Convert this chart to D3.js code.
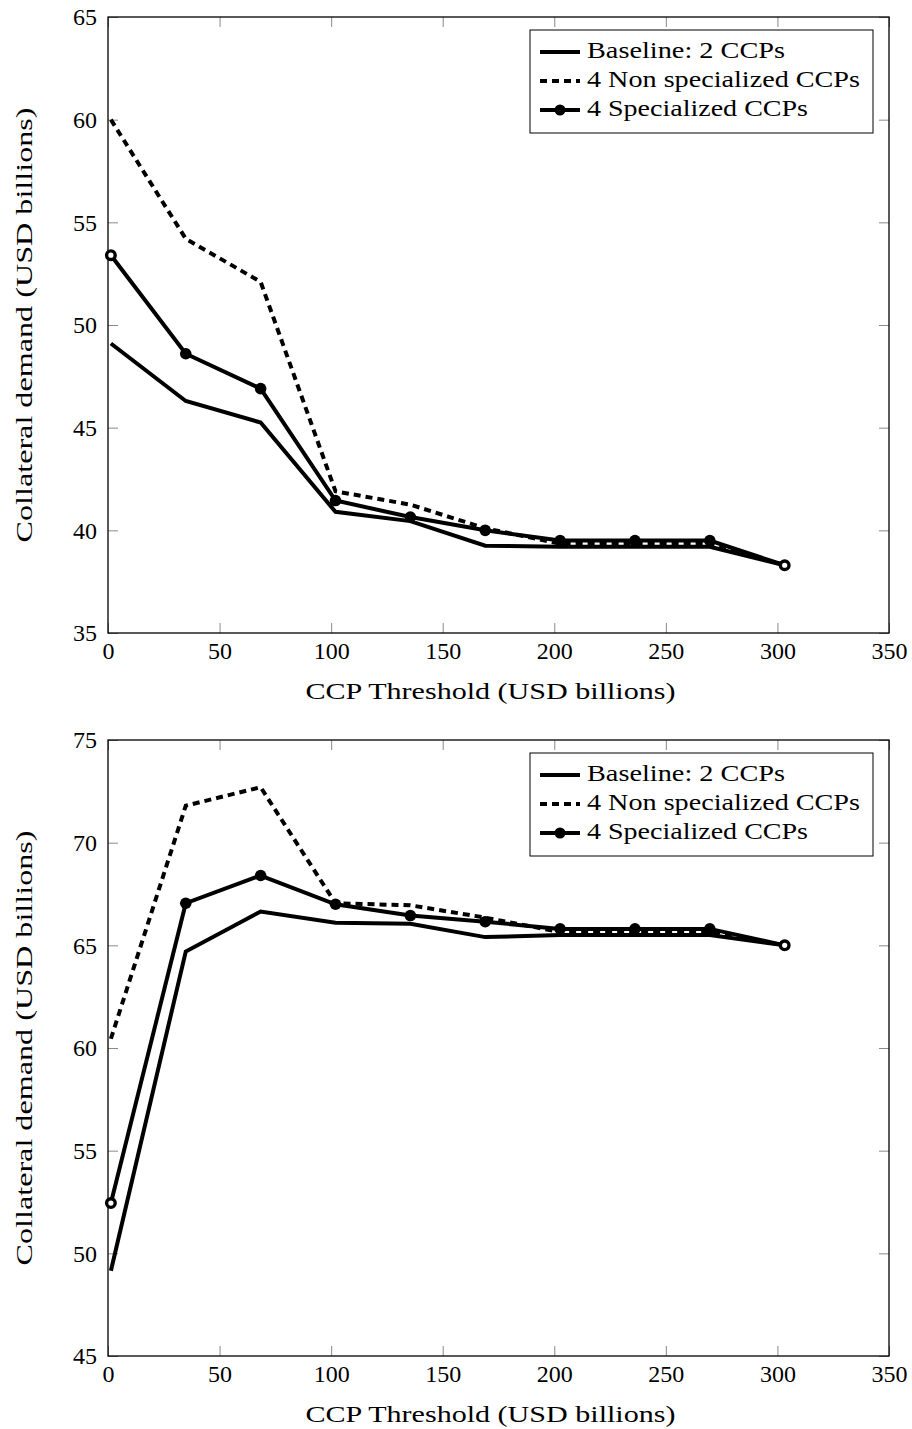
<!DOCTYPE html>
<html>
<head>
<meta charset="utf-8">
<script src="https://cdn.jsdelivr.net/npm/d3@7"></script>
<style>
  body { margin: 0; background: #fff; }
  svg text { font-family: "Liberation Serif", "Times New Roman", "DejaVu Serif", serif; fill: #000; }
</style>
</head>
<body>
<svg width="912" height="1429"></svg>
<script>
// CCP threshold (USD billions)
let thresholds = [1.3, 34.85, 68.4, 101.95, 135.5, 169.05, 202.6, 236.15, 269.7, 303.25];

// top panel
let baseTop = [49.1, 46.3, 45.25, 40.9, 40.45, 39.25, 39.2, 39.2, 39.2, 38.3];
let nonSpecTop = [60.0, 54.2, 52.1, 41.9, 41.25, 40.1, 39.35, 39.35, 39.35, 38.3];
let specTop = [53.4, 48.6, 46.9, 41.45, 40.65, 40.0, 39.5, 39.5, 39.5, 38.3];

// bottom panel
let baseBot = [49.15, 64.7, 66.65, 66.1, 66.05, 65.4, 65.5, 65.5, 65.5, 65.0];
let nonSpecBot = [60.45, 71.8, 72.7, 67.05, 66.95, 66.35, 65.65, 65.65, 65.65, 65.0];
let specBot = [52.45, 67.05, 68.4, 67.0, 66.45, 66.15, 65.8, 65.8, 65.8, 65.0];

let xTicks = [0, 50, 100, 150, 200, 250, 300, 350];
let yTicksTop = [35, 40, 45, 50, 55, 60, 65];
let yTicksBot = [45, 50, 55, 60, 65, 70, 75];

let legendNames = ['Baseline: 2 CCPs', '4 Non specialized CCPs', '4 Specialized CCPs'];
let legendWidths = [198, 273, 221];

let svg = d3.select('svg');
let margin = {left: 108, top: 17};
let innerWidth = 781;
let innerHeight = 616;
let serif = '"Liberation Serif", "Times New Roman", "DejaVu Serif", serif';

let render = (top, yTicks, base, nonSpec, spec) => {
    let g = svg.append('g').attr('transform', `translate(${margin.left},${top})`);

    let xScale = d3.scaleLinear().domain([0, 350]).range([0, innerWidth]);
    let yScale = d3.scaleLinear().domain([yTicks[0], yTicks[yTicks.length - 1]]).range([innerHeight, 0]);

    // ticks inside the frame, on all four sides
    let tickStyle = sel => {
        sel.attr('font-family', serif).attr('font-size', 24);
        sel.select('.domain').remove();
        sel.selectAll('.tick line').attr('stroke', '#8a8a8a').attr('stroke-width', 1);
    };
    // mirrored ticks carry no labels: drop their empty text nodes
    let noLabels = sel => sel.selectAll('.tick text').remove();

    g.append('g').attr('transform', `translate(0,${innerHeight})`)
        .call(d3.axisBottom(xScale).tickValues(xTicks).tickSizeInner(-10).tickSizeOuter(0).tickPadding(8))
        .call(tickStyle)
        .selectAll('text').attr('dy', '0.75em');
    g.append('g')
        .call(d3.axisTop(xScale).tickValues(xTicks).tickSizeInner(-10).tickSizeOuter(0))
        .call(tickStyle).call(noLabels);
    g.append('g')
        .call(d3.axisLeft(yScale).tickValues(yTicks).tickSizeInner(-10).tickSizeOuter(0).tickPadding(11))
        .call(tickStyle);
    g.append('g').attr('transform', `translate(${innerWidth},0)`)
        .call(d3.axisRight(yScale).tickValues(yTicks).tickSizeInner(-10).tickSizeOuter(0))
        .call(tickStyle).call(noLabels);

    g.append('rect')
        .attr('width', innerWidth).attr('height', innerHeight)
        .attr('fill', 'none').attr('stroke', '#000').attr('stroke-width', 1.3);

    let line = d3.line()
        .x((d, i) => xScale(thresholds[i]))
        .y(d => yScale(d));

    g.append('path').datum(base).attr('d', line)
        .attr('fill', 'none').attr('stroke', '#000').attr('stroke-width', 4);
    g.append('path').datum(nonSpec).attr('d', line)
        .attr('fill', 'none').attr('stroke', '#000').attr('stroke-width', 4)
        .attr('stroke-dasharray', '7,5');
    g.append('path').datum(spec).attr('d', line)
        .attr('fill', 'none').attr('stroke', '#000').attr('stroke-width', 4);

    // first and last markers come out as rings in the original
    g.selectAll('.mark').data(spec).enter().append('circle')
        .attr('cx', (d, i) => xScale(thresholds[i]))
        .attr('cy', d => yScale(d))
        .attr('r', (d, i) => (i === 0 || i === spec.length - 1) ? 4.3 : 5.8)
        .attr('fill', (d, i) => (i === 0 || i === spec.length - 1) ? '#fff' : '#000')
        .attr('stroke', '#000')
        .attr('stroke-width', (d, i) => (i === 0 || i === spec.length - 1) ? 3.4 : 0);

    // axis titles
    g.append('text')
        .attr('x', innerWidth / 2 - 8).attr('y', innerHeight + 66)
        .attr('text-anchor', 'middle').attr('font-size', 24).attr('font-family', serif)
        .attr('textLength', 370).attr('lengthAdjust', 'spacingAndGlyphs')
        .text('CCP Threshold (USD billions)');
    g.append('text')
        .attr('transform', `translate(${-76},${innerHeight / 2}) rotate(-90)`)
        .attr('text-anchor', 'middle').attr('font-size', 24).attr('font-family', serif)
        .attr('textLength', 435).attr('lengthAdjust', 'spacingAndGlyphs')
        .text('Collateral demand (USD billions)');

    // legend
    let lg = g.append('g').attr('transform', `translate(${innerWidth - 359},13)`);
    lg.append('rect').attr('width', 343).attr('height', 103)
        .attr('fill', '#fff').attr('stroke', '#000').attr('stroke-width', 1);
    legendNames.forEach((name, i) => {
        let cy = 22 + i * 29;
        let ln = lg.append('line')
            .attr('x1', 10).attr('x2', 50).attr('y1', cy).attr('y2', cy)
            .attr('stroke', '#000').attr('stroke-width', 4);
        if (i === 1) ln.attr('stroke-dasharray', '7,5');
        if (i === 2) lg.append('circle').attr('cx', 30).attr('cy', cy).attr('r', 5.5).attr('fill', '#000');
        lg.append('text')
            .attr('x', 57).attr('y', cy + 6).attr('font-size', 23).attr('font-family', serif)
            .attr('textLength', legendWidths[i]).attr('lengthAdjust', 'spacingAndGlyphs')
            .text(name);
    });
};

render(17, yTicksTop, baseTop, nonSpecTop, specTop);
render(740, yTicksBot, baseBot, nonSpecBot, specBot);
</script>
</body>
</html>
